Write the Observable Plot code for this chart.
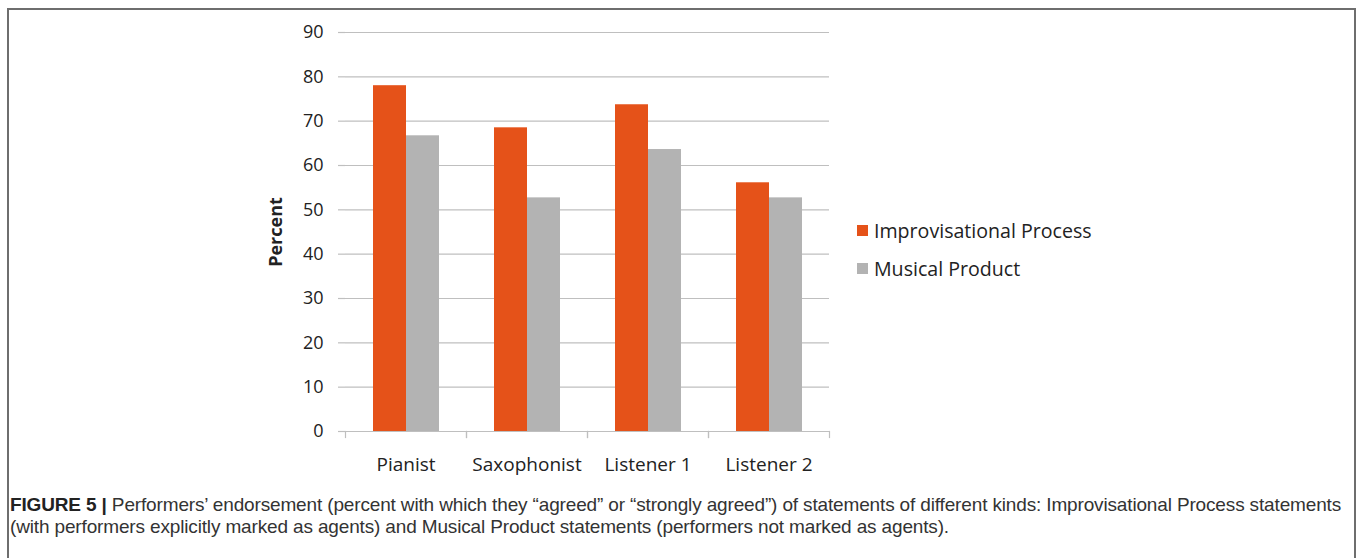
<!DOCTYPE html>
<html>
<head>
<meta charset="utf-8">
<script src="https://cdn.jsdelivr.net/npm/d3@7"></script>
<script src="https://cdn.jsdelivr.net/npm/@observablehq/plot@0.6"></script>
<style>
  html, body { margin: 0; padding: 0; background: #fff; }
  #page { position: relative; width: 1360px; height: 558px; overflow: hidden; }
  #box { position: absolute; left: 7px; top: 8px; width: 1349px; height: 620px; border: 2px solid #6e6e6e; box-sizing: border-box; }
  #chart { position: absolute; left: 0; top: 0; }
  #ylabel { position: absolute; left: 275px; top: 232px; transform: translate(-50%, -50%) rotate(-90deg);
    font: bold 18px "Open Sans", sans-serif; color: #222; white-space: nowrap; }
  .leg { position: absolute; left: 857px; font: 19.6px "Open Sans", sans-serif; color: #222; white-space: nowrap; display: flex; align-items: center; }
  .leg span.sw { display: inline-block; width: 11px; height: 11px; margin-right: 6px; }
  #caption { position: absolute; left: 10px; top: 494px; font: 19px "Liberation Sans", Arial, sans-serif; line-height: 22px; color: #333; white-space: nowrap; letter-spacing: -0.15px; }
  #caption b { color: #222; }
</style>
</head>
<body>
<div id="page">
  <div id="box"></div>
  <div id="chart"></div>
  <div id="ylabel">Percent</div>
  <div id="legend"></div>
  <div id="caption"><b>FIGURE 5 |</b> Performers’ endorsement (percent with which they “agreed” or “strongly agreed”) of statements of different kinds: Improvisational Process statements<br>(with performers explicitly marked as agents) and Musical Product statements (performers not marked as agents).</div>
</div>
<script>
const categories = ["Pianist", "Saxophonist", "Listener 1", "Listener 2"];
const seriesNames = ["Improvisational Process", "Musical Product"];
const improvisational = [78, 68.5, 73.7, 56.1];
const musical = [66.7, 52.7, 63.6, 52.7];
const yTicks = [0, 10, 20, 30, 40, 50, 60, 70, 80, 90];
const colors = ["#e55219", "#b3b3b3"];

const data = [];
categories.forEach((c, i) => {
  data.push({category: c, series: seriesNames[0], value: improvisational[i]});
  data.push({category: c, series: seriesNames[1], value: musical[i]});
});

const gridColor = "#bfbfbf";
const chart = Plot.plot({
  width: 1360,
  height: 480,
  marginLeft: 344,
  marginRight: 531,
  marginTop: 32,
  marginBottom: 49,
  style: {fontFamily: "'Open Sans', sans-serif", fontSize: "18px", color: "#222", background: "transparent"},
  fx: {domain: categories, padding: 0, label: null, axis: null},
  x: {domain: seriesNames, paddingInner: 0, paddingOuter: 0.78, axis: null},
  y: {domain: [0, 90], axis: null},
  color: {domain: seriesNames, range: colors},
  marks: [
    Plot.gridY(yTicks, {stroke: gridColor, strokeOpacity: 1, strokeWidth: 1.2}),
    Plot.barY(data, {fx: "category", x: "series", y: "value", fill: "series"}),
    Plot.frame({anchor: "left", stroke: gridColor, strokeWidth: 1.2, insetTop: 399, insetBottom: -6}),
    Plot.frame({anchor: "right", stroke: gridColor, strokeWidth: 1.2, insetTop: 399, insetBottom: -6}),
    Plot.axisY(yTicks, {tickSize: 7, tickPadding: 15, stroke: gridColor, strokeWidth: 1.2, fill: "#222", line: true, label: null, fontSize: 18}),
    Plot.axisFx({anchor: "bottom", tickSize: 0, tickPadding: 26, label: null, fill: "#222", fontSize: 19})
  ]
});
document.getElementById("chart").appendChild(chart);

const legend = document.getElementById("legend");
const legTops = [230, 268];
seriesNames.forEach((s, i) => {
  const d = document.createElement("div");
  d.className = "leg";
  d.style.top = (legTops[i] - 12) + "px";
  d.style.height = "24px";
  d.innerHTML = `<span class="sw" style="background:${colors[i]}"></span>${s}`;
  legend.appendChild(d);
});
</script>
</body>
</html>
